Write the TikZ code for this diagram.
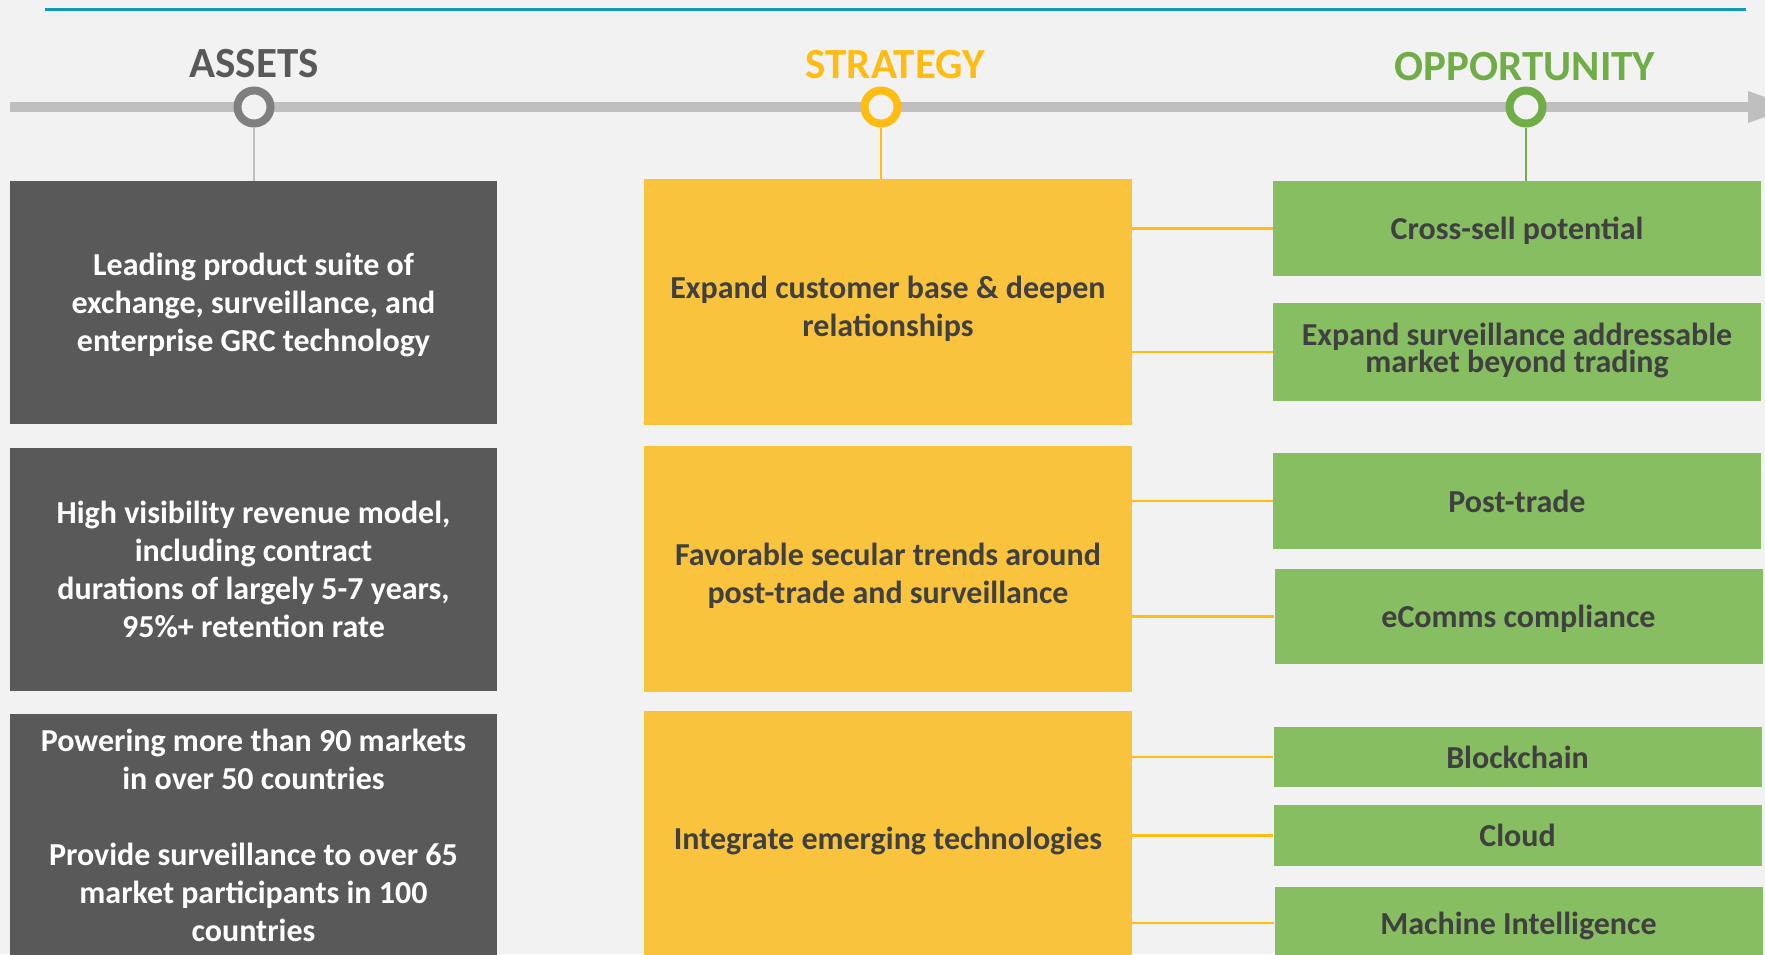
\documentclass[tikz,border=0pt]{standalone}
\usepackage{fontspec}
\setmainfont{Carlito}
\definecolor{cbg}{HTML}{F2F2F2}
\definecolor{cteal}{HTML}{119AB5}
\definecolor{cline}{HTML}{BFBFBF}
\definecolor{cgray}{HTML}{595959}
\definecolor{cring}{HTML}{7F7F7F}
\definecolor{cyel}{HTML}{F9C33E}
\definecolor{cyline}{HTML}{FFBC12}
\definecolor{cgreen}{HTML}{86BE61}
\definecolor{cgreenT}{HTML}{70AD47}
\definecolor{cdark}{HTML}{404040}
\newcommand{\lineA}[1]{\rule[-8.5pt]{0pt}{38pt}\smash{#1}}
\newcommand{\lineS}[1]{\rule[-4pt]{0pt}{38.5pt}\smash{#1}}
\newcommand{\lineO}[1]{\rule[-8.2pt]{0pt}{38.4pt}\smash{#1}}
\newcommand{\lineE}[1]{\rule[-7pt]{0pt}{27pt}\smash{#1}}
\begin{document}
\begin{tikzpicture}[x=1pt,y=-1pt,
  box/.style={rectangle, inner sep=0pt, align=center, font=\bfseries\fontsize{32}{38}\selectfont},
  abox/.style={box, fill=cgray, text=white, minimum width=487, minimum height=243},
  sbox/.style={box, fill=cyel, text=cdark, minimum width=488, minimum height=246, font=\bfseries\fontsize{32}{38.5}\selectfont},
  obox/.style={box, fill=cgreen, text=cdark, minimum width=488},
  ebox/.style={obox, font=\bfseries\fontsize{32}{27}\selectfont},
  head/.style={font=\bfseries\fontsize{43}{50}\selectfont, anchor=base, inner sep=0pt},
  ring/.style={circle, line width=8pt, fill=cbg, minimum size=33pt, inner sep=0pt},
  stem/.style={line width=2pt},
  link/.style={draw=cyline, line width=2.4pt}]
\useasboundingbox (0,0) rectangle (1765,954);
\clip (0,0) rectangle (1765,954);
\fill[cbg] (0,0) rectangle (1765,954);
% top rule
\coordinate (r0) at (45,9.5);
\coordinate (r1) at (1746,9.5);
\draw[cteal, line width=2.7pt] (r0) -- (r1);
% timeline
\coordinate (t0) at (10,107);
\coordinate (t1) at (1748,107);
\draw[cline, line width=10pt] (t0) -- (t1);
\fill[cline] (1748,91) -- (1793,107) -- (1748,123) -- cycle;
% headings
\node[head, text=cgray] (hA) at (254,77) {ASSETS};
\node[head, text=cyline] (hS) at (895,78) {STRATEGY};
\node[head, text=cgreenT] (hO) at (1525,80) {OPPORTUNITY};
% rings
\node[ring, draw=cring] (cA) at (254,107) {};
\node[ring, draw=cyline] (cS) at (881,107) {};
\node[ring, draw=cgreenT] (cO) at (1526,107) {};
% asset boxes
\node[abox] (a1) at (253.5,302.5) {\lineA{Leading product suite of}\\\lineA{exchange, surveillance, and}\\\lineA{enterprise GRC technology}};
\node[abox] (a2) at (253.5,569.5) {\lineA{High visibility revenue model,}\\\lineA{including contract}\\\lineA{durations of largely 5-7 years,}\\\lineA{95\%+ retention rate}};
\node[abox] (a3) at (253.5,835.5) {\lineA{Powering more than 90 markets}\\\lineA{in over 50 countries}\\\lineA{}\\\lineA{Provide surveillance to over 65}\\\lineA{market participants in 100}\\\lineA{countries}};
% strategy boxes
\node[sbox] (s1) at (888,302) {\lineS{Expand customer base \& deepen}\\\lineS{relationships}};
\node[sbox] (s2) at (888,569) {\lineS{Favorable secular trends around}\\\lineS{post-trade and surveillance}};
\node[sbox] (s3) at (888,834) {\lineS{Integrate emerging technologies}};
% opportunity boxes
\node[obox, minimum height=95] (o1) at (1517,228.5) {\lineO{Cross-sell potential}};
\node[ebox, minimum height=98] (o2) at (1517,352) {\lineE{Expand surveillance addressable}\\\lineE{market beyond trading}};
\node[obox, minimum height=96] (o3) at (1517,501) {\lineO{Post-trade}};
\node[obox, minimum height=95] (o4) at (1518.5,616.5) {\lineO{eComms compliance}};
\node[obox, minimum height=60] (o5) at (1517.5,757) {\lineO{Blockchain}};
\node[obox, minimum height=61] (o6) at (1517.5,835.5) {\lineO{Cloud}};
\node[obox, minimum height=72] (o7) at (1518.5,923) {\lineO{Machine Intelligence}};
% stems
\draw[stem, draw=cline] (cA.south) -- (cA.south |- a1.north);
\draw[stem, draw=cyline] (cS.south) -- (cS.south |- s1.north);
\draw[stem, draw=cgreenT] (cO.south) -- (cO.south |- o1.north);
% connectors
\draw[link] (s1.east |- o1.west) -- (o1.west);
\draw[link] (s1.east |- o2.west) -- (o2.west);
\draw[link] (s2.east |- o3.west) -- (o3.west);
\draw[link] (s2.east |- o4.west) -- (o4.west);
\draw[link] (s3.east |- o5.west) -- (o5.west);
\draw[link] (s3.east |- o6.west) -- (o6.west);
\draw[link] (s3.east |- o7.west) -- (o7.west);
\end{tikzpicture}
\end{document}
